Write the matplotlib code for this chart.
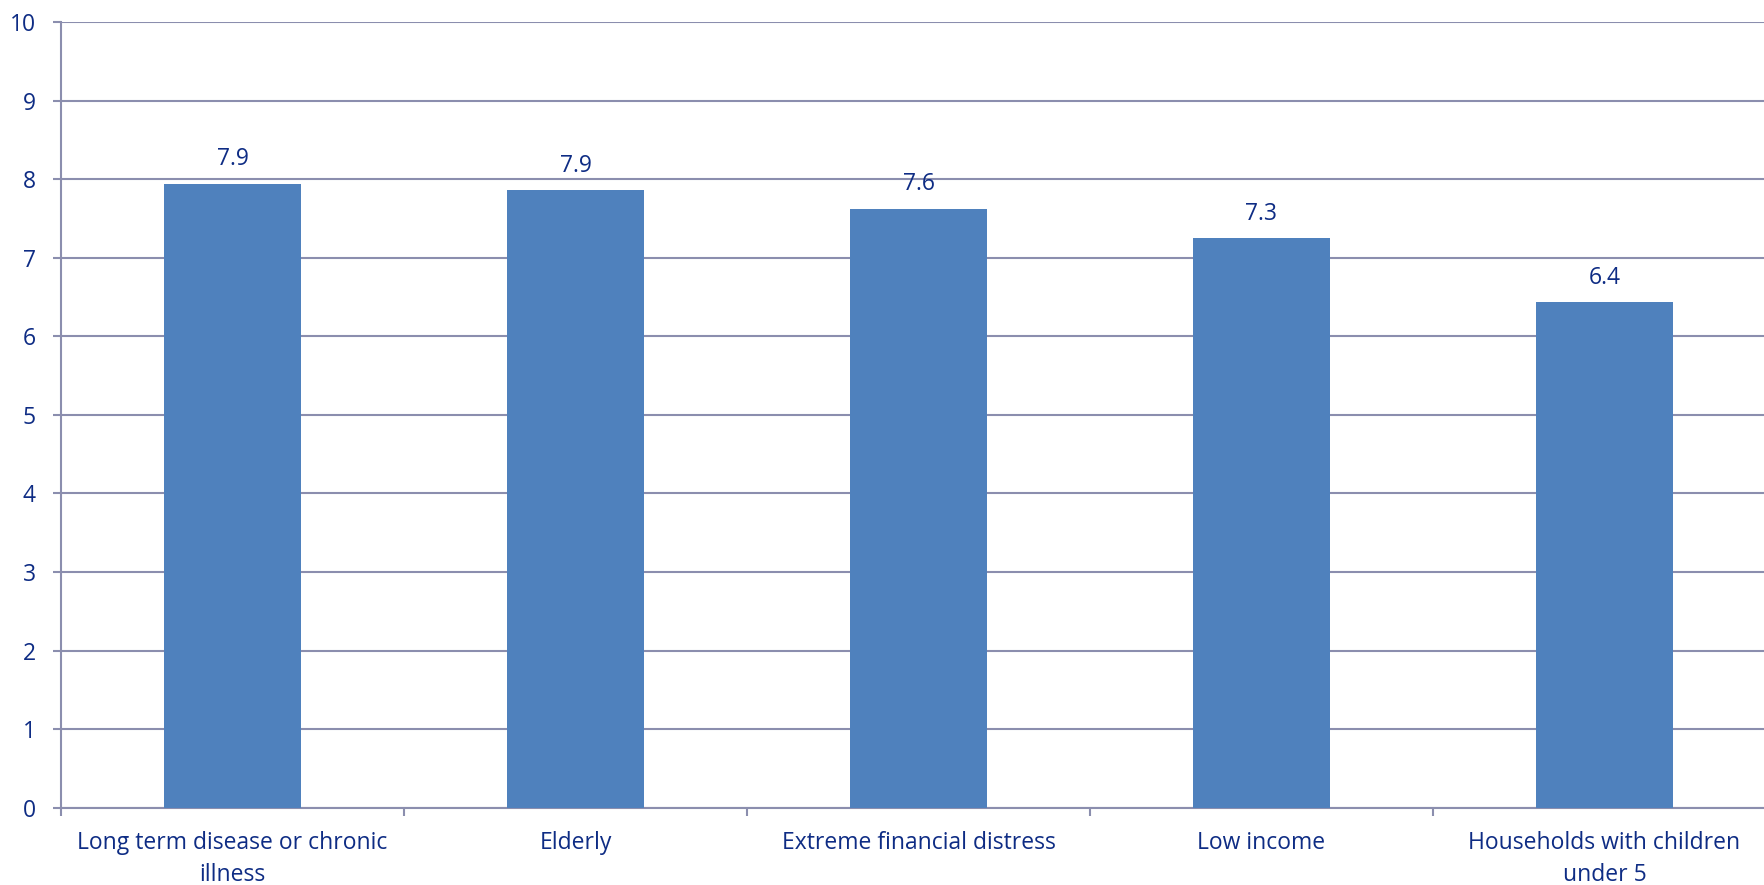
import matplotlib.pyplot as plt
import numpy as np

categories = ['Long term disease or chronic\nillness', 'Elderly', 'Extreme financial distress',
              'Low income', 'Households with children\nunder 5']
values = [7.94, 7.86, 7.62, 7.25, 6.43]
labels = ['7.9', '7.9', '7.6', '7.3', '6.4']

bar_color = '#4F81BD'
text_color = '#0E2C84'
grid_color = '#8B8EAE'

plt.rcParams['font.family'] = ['Open Sans', 'DejaVu Sans']

fig = plt.figure(figsize=(17.65, 8.85), dpi=100)
ax = fig.add_axes([61 / 1765, 1 - 807.7 / 885, 1715 / 1765, 785.7 / 885])

x = np.arange(len(categories))
ax.bar(x, values, width=0.4, color=bar_color, zorder=3)
for xi, v, lab in zip(x, values, labels):
    ax.annotate(lab, (xi, v), xytext=(0, 9), textcoords='offset points',
                ha='center', va='bottom', fontsize=16.5, color=text_color)

ax.set_xlim(-0.5, len(categories) - 0.5)
ax.set_ylim(0, 10)
ax.set_yticks(range(0, 11))
ax.yaxis.grid(True, color=grid_color, linewidth=1.5, zorder=0)

ax.set_xticks(x)
ax.set_xticklabels(categories, fontsize=16.5, color=text_color, linespacing=1.4)
ax.set_xticks(np.arange(-0.5, len(categories)), minor=True)
ax.tick_params(axis='x', which='major', length=0, pad=17)
ax.tick_params(axis='x', which='minor', length=6, width=1.5, color=grid_color, direction='out')
ax.tick_params(axis='y', length=6, width=1.5, color=grid_color, labelsize=16.5,
               labelcolor=text_color, pad=12)

for s in ['top', 'right']:
    ax.spines[s].set_visible(False)
for s in ['left', 'bottom']:
    ax.spines[s].set_color(grid_color)
    ax.spines[s].set_linewidth(1.5)

fig.savefig('out.png', dpi=100)
